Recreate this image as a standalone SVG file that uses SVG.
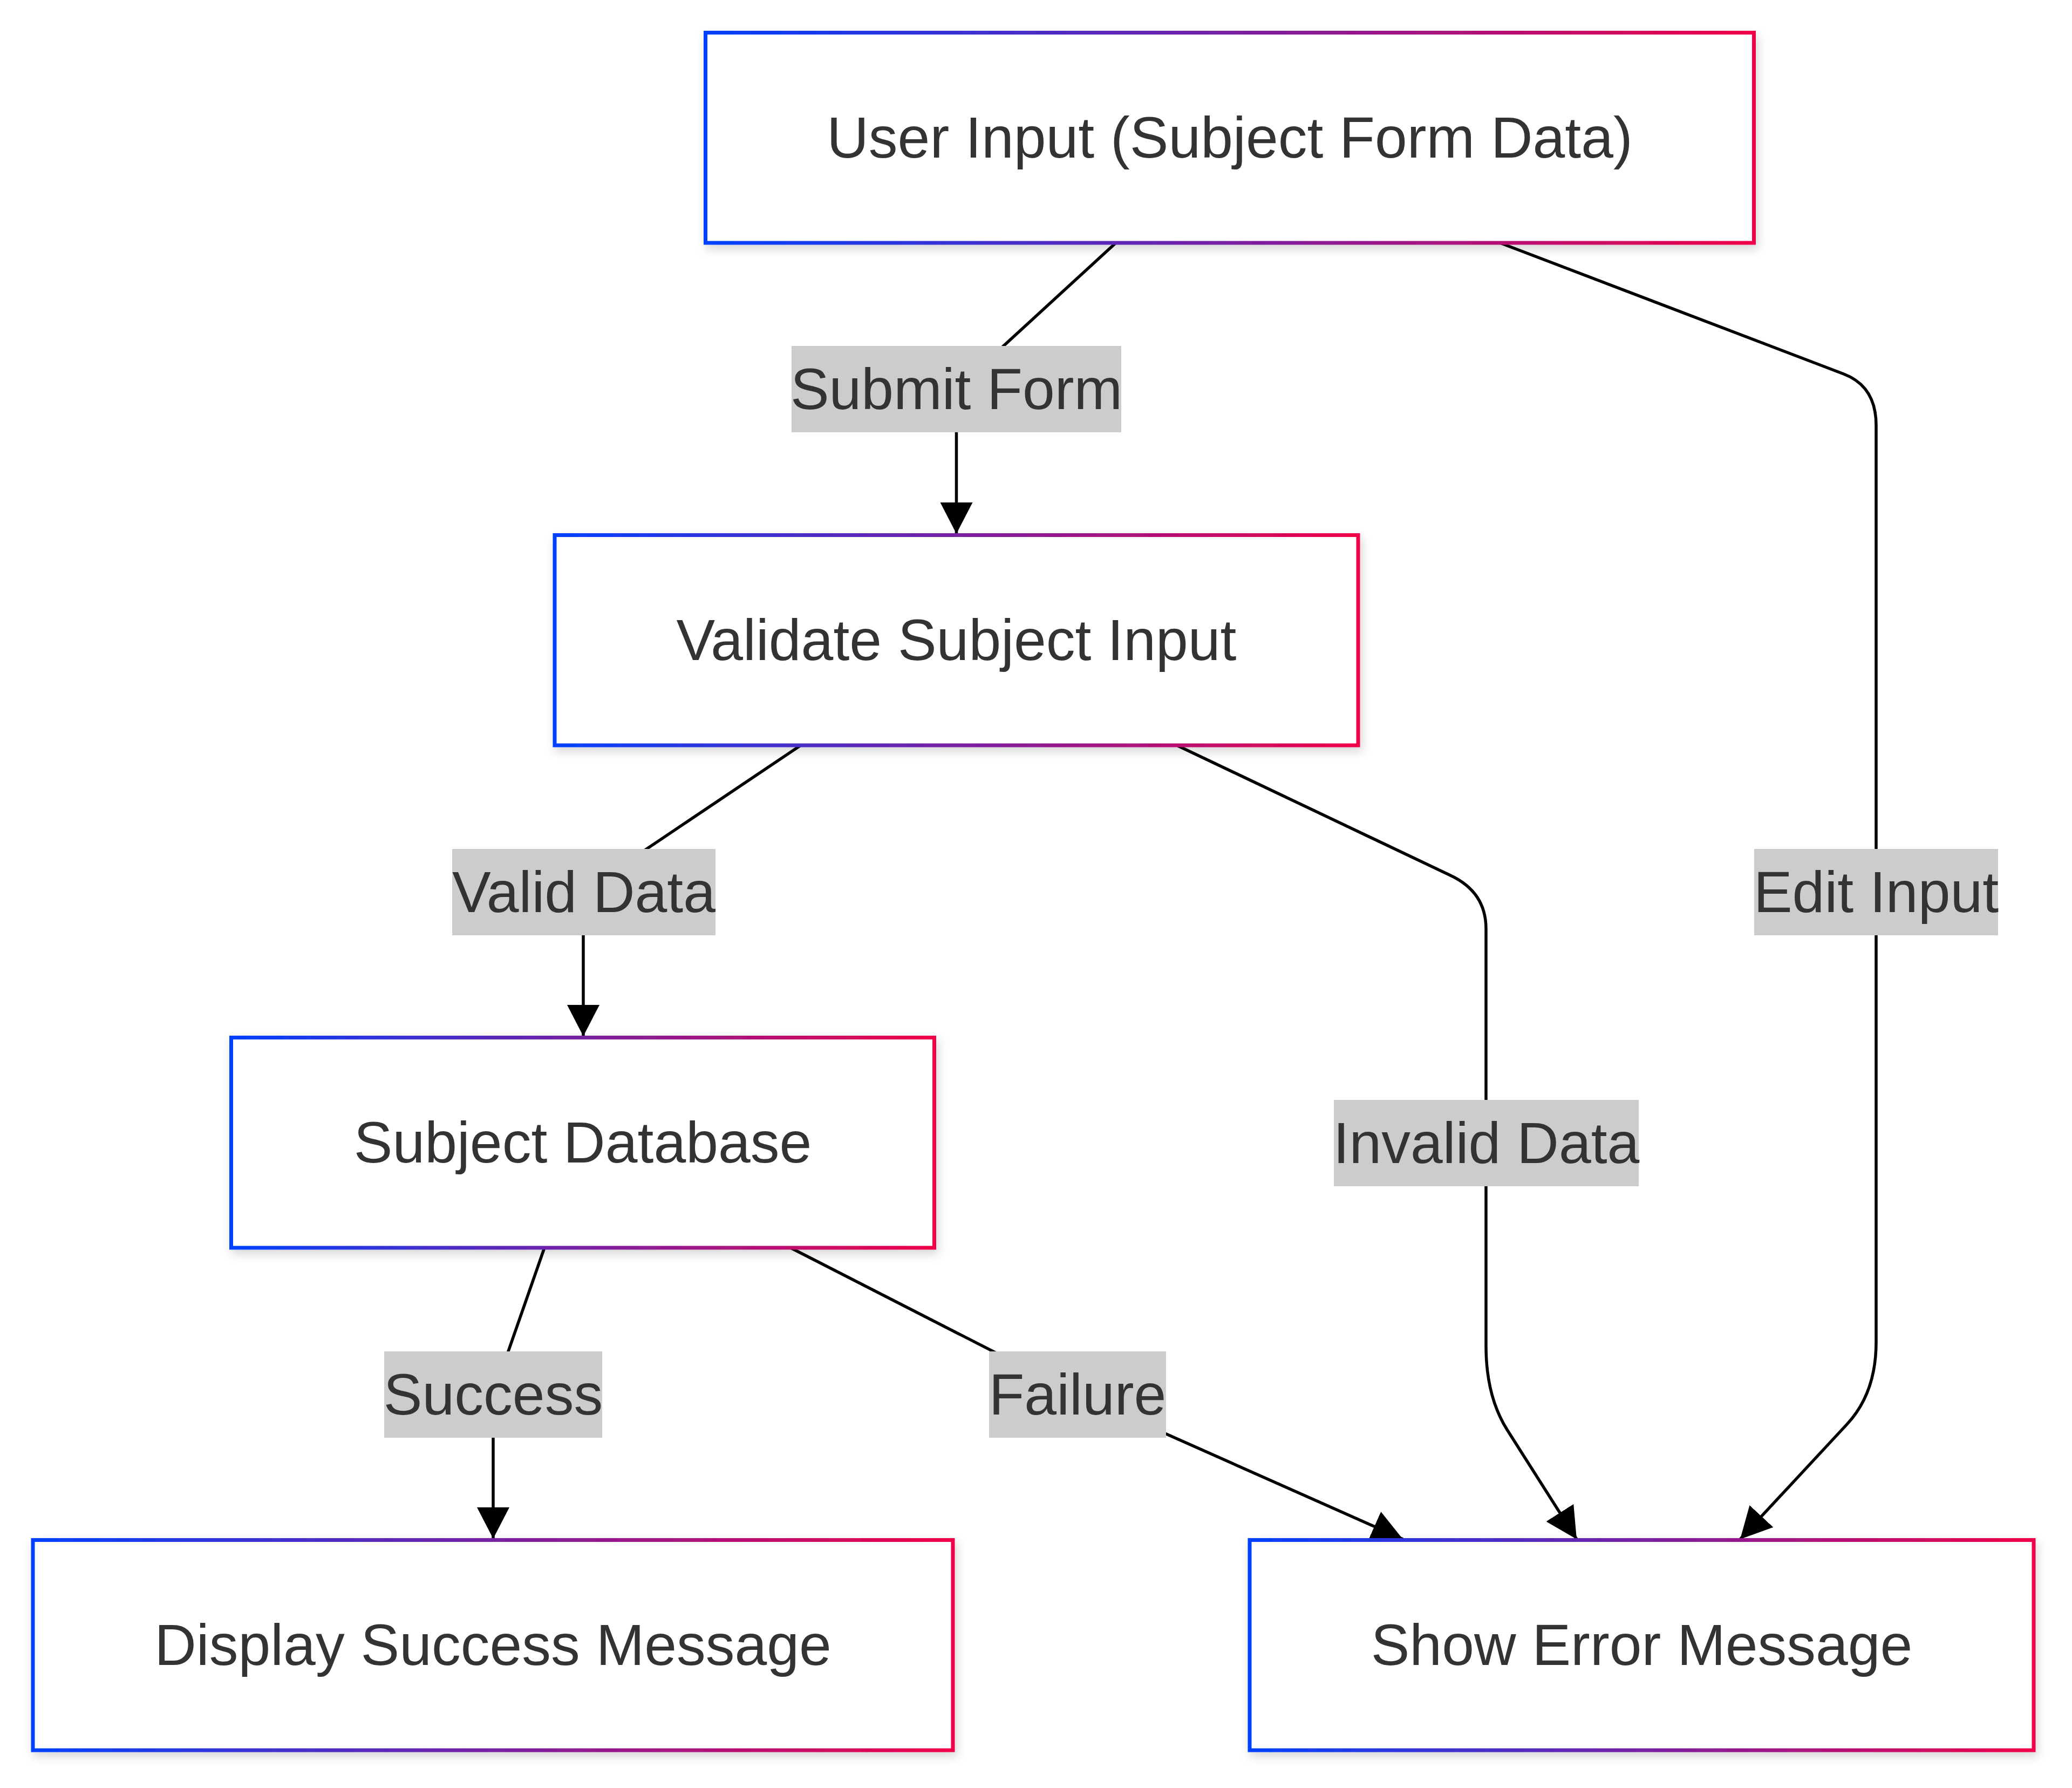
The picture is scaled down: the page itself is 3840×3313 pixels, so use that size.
<svg xmlns="http://www.w3.org/2000/svg" width="3840" height="3313" viewBox="0 0 3840 3313">
<style>
.node rect{fill:#ffffff;stroke:url(#grad);stroke-width:7;filter:url(#shadow)}
.node text,.lbl text{font-family:"Liberation Sans",Arial,Helvetica,sans-serif;font-size:107.5px;fill:#333333;text-anchor:middle}
.lbl rect{fill:#cccccc}
.edge{fill:none;stroke:#000000;stroke-width:5.5;marker-end:url(#arrow)}
</style>
<defs>
<linearGradient id="grad" x1="0" y1="0" x2="1" y2="0">
<stop offset="0" stop-color="#0041ff"/>
<stop offset="1" stop-color="#f00048"/>
</linearGradient>
<filter id="shadow" x="-10%" y="-20%" width="120%" height="150%">
<feDropShadow dx="4" dy="8" stdDeviation="9" flood-color="#000000" flood-opacity="0.16"/>
</filter>
<marker id="arrow" viewBox="0 0 10 10" refX="10" refY="5" markerUnits="userSpaceOnUse" markerWidth="58" markerHeight="60" orient="auto" preserveAspectRatio="none">
<path d="M0,0 L10,5 L0,10 z" fill="#000000"/>
</marker>
</defs>
<rect width="3840" height="3313" fill="#ffffff"/>
<g id="connectors">
<path class="edge" d="M2068,450 L1772.5,721 L1772.5,989"/>
<path class="edge" d="M2780,450 L3417,693 Q3477,716 3477,788 L3477,2487 Q3477,2581 3423,2639 L3225,2852"/>
<path class="edge" d="M1484,1381 L1081,1652 L1081,1920"/>
<path class="edge" d="M2181,1381 L2688,1622 Q2754,1653 2754,1721 L2754,2494 Q2754,2587 2793,2649 L2922,2852"/>
<path class="edge" d="M1009,2312 L914,2584 L914,2851"/>
<path class="edge" d="M1465,2312 L1997,2584 L2600,2852"/>
</g>
<g id="edge-labels">
<g class="lbl" id="label-submit"><rect x="1467" y="641" width="611" height="160"/><text x="1772.5" y="758">Submit Form</text></g>
<g class="lbl" id="label-valid"><rect x="838" y="1573" width="488" height="160"/><text x="1082" y="1690">Valid Data</text></g>
<g class="lbl" id="label-edit"><rect x="3251" y="1573" width="452" height="160"/><text x="3477" y="1690">Edit Input</text></g>
<g class="lbl" id="label-invalid"><rect x="2472" y="2038" width="565" height="160"/><text x="2754.5" y="2155">Invalid Data</text></g>
<g class="lbl" id="label-success"><rect x="712" y="2504" width="404" height="160"/><text x="914" y="2621">Success</text></g>
<g class="lbl" id="label-failure"><rect x="1833" y="2504" width="328" height="160"/><text x="1997" y="2621">Failure</text></g>
</g>
<g class="node" id="node-user-input"><rect x="1307.5" y="60.5" width="1943" height="389.5"/><text x="2279" y="292">User Input (Subject Form Data)</text></g>
<g class="node" id="node-validate"><rect x="1028" y="991.5" width="1489" height="389.5"/><text x="1772.5" y="1223">Validate Subject Input</text></g>
<g class="node" id="node-database"><rect x="428.5" y="1922.5" width="1303" height="389.5"/><text x="1080" y="2154">Subject Database</text></g>
<g class="node" id="node-success"><rect x="61" y="2853.5" width="1705" height="389.5"/><text x="913.5" y="3085">Display Success Message</text></g>
<g class="node" id="node-error"><rect x="2316" y="2853.5" width="1453" height="389.5"/><text x="3042.5" y="3085">Show Error Message</text></g>
</svg>
